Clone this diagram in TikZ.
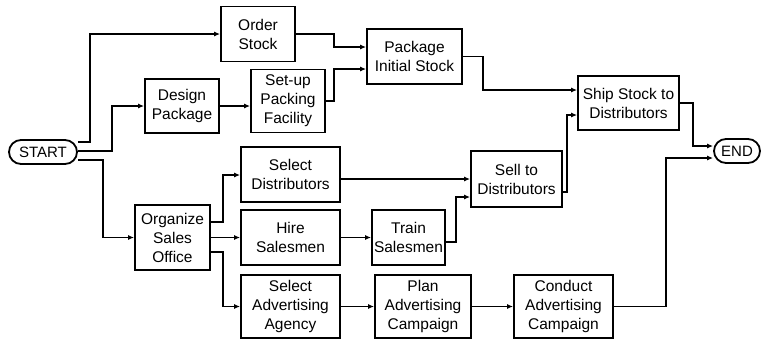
\documentclass[tikz,border=0pt]{standalone}
\usepackage{fontspec}
\setmainfont{Liberation Sans}
\usetikzlibrary{arrows.meta,shapes.misc}
\tikzset{
  box/.style={draw, line width=1.8pt, align=center, inner sep=0pt,
    font=\fontsize{15.5}{19}\selectfont},
  term/.style={draw, line width=1.8pt, rounded rectangle, minimum height=24pt,
    inner sep=1pt, font=\fontsize{15}{19}\selectfont},
  arr/.style={line width=1.4pt, -{Latex[length=6pt,width=5pt]}},
}
\begin{document}
\begin{tikzpicture}[x=1pt,y=-1pt]
\useasboundingbox (0,0) rectangle (763,341);
\node[term, minimum width=70pt] (start) at (43,152) {START};
\node[term, minimum width=48pt] (end) at (737,151) {END};
\node[box, minimum width=74pt, minimum height=55pt] (order) at (258,34) {Order\\Stock};
\node[box, minimum width=74pt, minimum height=54pt] (design) at (182,106) {Design\\Package};
\node[box, minimum width=74pt, minimum height=63pt] (setup) at (288,101) {Set-up\\Packing\\Facility};
\node[box, minimum width=95pt, minimum height=55pt] (pkg) at (414.5,56.5) {Package\\Initial Stock};
\node[box, minimum width=101pt, minimum height=54pt] (ship) at (628.5,103) {Ship Stock to\\Distributors};
\node[box, minimum width=91pt, minimum height=56pt] (sell) at (516.5,179) {Sell to\\Distributors};
\node[box, minimum width=99pt, minimum height=55pt] (seldist) at (290.5,174.5) {Select\\Distributors};
\node[box, minimum width=75pt, minimum height=65pt] (org) at (172.5,237.5) {Organize\\Sales\\Office};
\node[box, minimum width=99pt, minimum height=55pt] (hire) at (290.5,237.5) {Hire\\Salesmen};
\node[box, minimum width=73pt, minimum height=55pt] (train) at (408.5,237.5) {Train\\Salesmen};
\node[box, minimum width=99pt, minimum height=63pt] (seladv) at (290.5,306.5) {Select\\Advertising\\Agency};
\node[box, minimum width=96pt, minimum height=63pt] (plan) at (423,306.5) {Plan\\Advertising\\Campaign};
\node[box, minimum width=99pt, minimum height=63pt] (conduct) at (563.5,306.5) {Conduct\\Advertising\\Campaign};

\draw[arr] (start.east |- 0,142) -- ++(12,0) |- (order.west);
\draw[arr] (start.east |- 0,151) -- ++(34,0) |- (design.west);
\draw[arr] (start.east |- 0,160) -- ++(25,0) |- (org.west);
\draw[arr] (order.east) -- ++(38,0) |- (pkg.west |- 0,47);
\draw[arr] (design.east) -- (setup.west |- design.east);
\draw[arr] (setup.east) -- ++(8,0) |- (pkg.west |- 0,69);
\draw[arr] (pkg.east) -- ++(20,0) |- (ship.west |- 0,90);
\draw[arr] (sell.east |- 0,192) -- ++(4,0) |- (ship.west |- 0,115);
\draw[arr] (ship.east) -- ++(13,0) |- (end.west |- 0,146);
\draw[arr] (conduct.east) -- ++(52,0) |- (end.west |- 0,158);
\draw[arr] (org.east |- 0,222) -- ++(12,0) |- (seldist.west |- 0,175);
\draw[arr] (org.east) -- (hire.west);
\draw[arr] (org.east |- 0,252) -- ++(12,0) |- (seladv.west);
\draw[arr] (seldist.east |- 0,179) -- (sell.west |- 0,179);
\draw[arr] (hire.east) -- (train.west);
\draw[arr] (train.east |- 0,242) -- ++(10,0) |- (sell.west |- 0,197);
\draw[arr] (seladv.east) -- (plan.west);
\draw[arr] (plan.east) -- (conduct.west);
\end{tikzpicture}
\end{document}
